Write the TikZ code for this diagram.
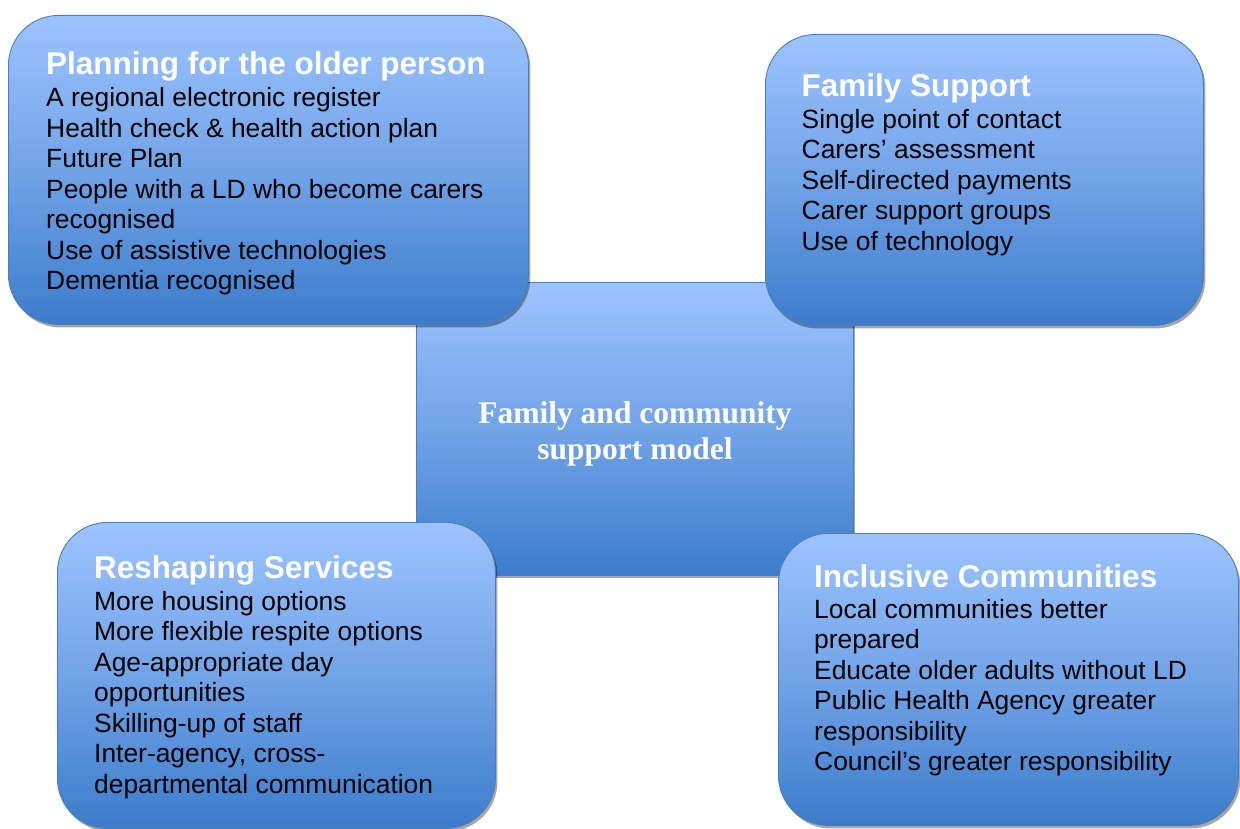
\documentclass[tikz,border=0pt]{standalone}
\usepackage{fontspec}
\setmainfont{Liberation Sans}
\newfontfamily\serifbold{Liberation Serif}
\usetikzlibrary{shadows}
\definecolor{lightblue}{RGB}{157,195,255}
\definecolor{darkblue}{RGB}{60,124,203}
\definecolor{edgeblue}{RGB}{74,126,187}
\tikzset{
  panel/.style={draw=edgeblue, line width=0.9pt, top color=lightblue, bottom color=darkblue,
    middle color=lightblue!55!darkblue,
    drop shadow={shadow xshift=2pt, shadow yshift=-3pt, fill=black, opacity=0.35},
    inner sep=0pt, anchor=north west},
  roundpanel/.style={panel, rounded corners=50pt},
  titletext/.style={anchor=base west, inner sep=0pt, text=white,
    font=\fontsize{31.5}{36}\selectfont\bfseries},
  bodytext/.style={anchor=base west, inner sep=0pt, align=left, text=black,
    font=\fontsize{26.4}{30.5}\selectfont},
  centertext/.style={inner sep=0pt, align=center, text=white,
    font=\fontsize{31.5}{36}\selectfont\serifbold\bfseries}
}
\begin{document}
\begin{tikzpicture}[x=1pt,y=-1pt]
\useasboundingbox (0,0) rectangle (1240,829);
% centre square
\node[panel, minimum width=437pt, minimum height=293pt] (centre) at (416,282) {};
\node[centertext, anchor=base] (centrelbl) at (635,459) {Family and community\\support model};
% top-left
\node[roundpanel, minimum width=520pt, minimum height=309pt] (plan) at (8,15) {};
\node[titletext] (plant) at (46,74.3) {Planning for the older person};
\node[bodytext] (planb) at (46,289.7) {A regional electronic register\\Health check \& health action plan\\Future Plan\\People with a LD who become carers\\recognised\\Use of assistive technologies\\Dementia recognised};
% top-right
\node[roundpanel, minimum width=438pt, minimum height=291pt] (family) at (765,34) {};
\node[titletext] (familyt) at (801.5,96.7) {Family Support};
\node[bodytext] (familyb) at (801.5,250.3) {Single point of contact\\Carers’ assessment\\Self-directed payments\\Carer support groups\\Use of technology};
% bottom-left
\node[roundpanel, minimum width=438pt, minimum height=306pt] (reshape) at (57,522) {};
\node[titletext] (reshapet) at (94,578.3) {Reshaping Services};
\node[bodytext] (reshapeb) at (94,793) {More housing options\\More flexible respite options\\Age-appropriate day\\opportunities\\Skilling-up of staff\\Inter-agency, cross-\\departmental communication};
% bottom-right
\node[roundpanel, minimum width=460pt, minimum height=292pt] (inclusive) at (778,533) {};
\node[titletext] (inclusivet) at (814,587.3) {Inclusive Communities};
\node[bodytext] (inclusiveb) at (814,770.8) {Local communities better\\prepared\\Educate older adults without LD\\Public Health Agency greater\\responsibility\\Council’s greater responsibility};
\end{tikzpicture}
\end{document}
